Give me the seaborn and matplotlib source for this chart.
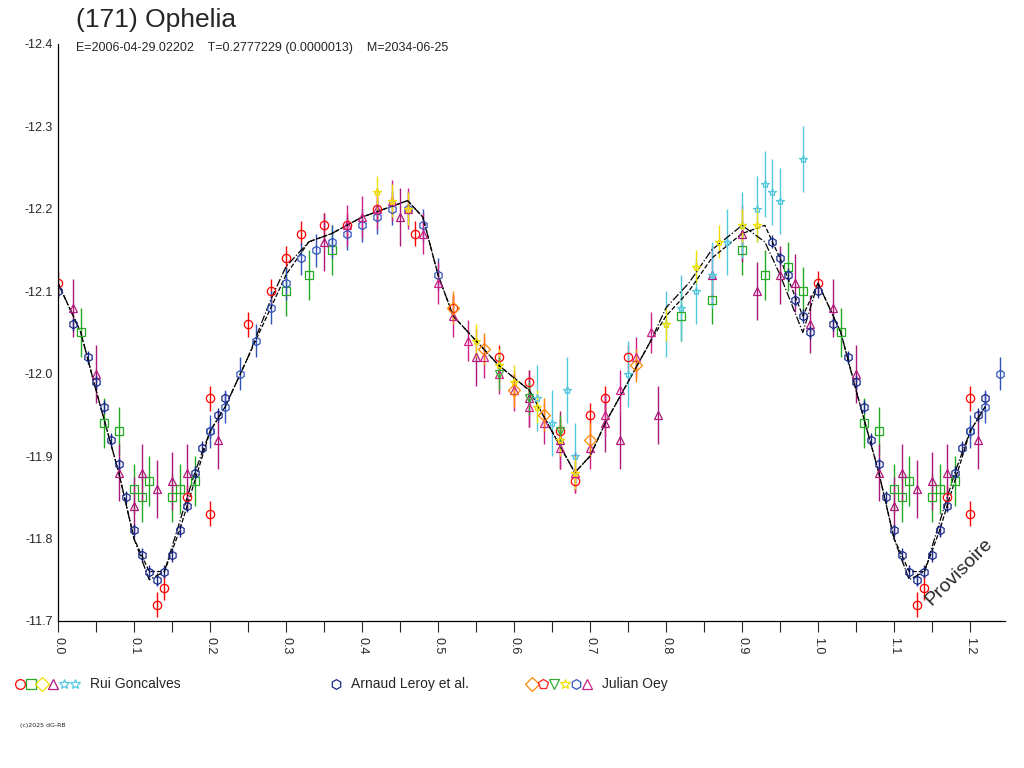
import numpy as np
import pandas as pd
import matplotlib
matplotlib.use("Agg")
import matplotlib.pyplot as plt
import seaborn as sns

# model light curves (phase, mag)
model_phase = [0.00, 0.03, 0.05, 0.08, 0.10, 0.12, 0.14, 0.16, 0.18, 0.20, 0.22, 0.25, 0.28, 0.30,
               0.33, 0.36, 0.40, 0.43, 0.46, 0.48, 0.50, 0.52, 0.55, 0.58, 0.62, 0.65, 0.68, 0.70,
               0.72, 0.75, 0.78, 0.80, 0.83, 0.86, 0.90, 0.93, 0.95, 0.98, 1.00]
model_a = [-12.11, -12.05, -11.98, -11.88, -11.80, -11.76, -11.76, -11.81, -11.87, -11.93, -11.96,
           -12.02, -12.08, -12.12, -12.16, -12.17, -12.19, -12.20, -12.21, -12.19, -12.12, -12.07,
           -12.04, -12.01, -11.98, -11.93, -11.88, -11.90, -11.94, -11.99, -12.04, -12.07, -12.10,
           -12.14, -12.17, -12.18, -12.14, -12.07, -12.11]
model_b = [-12.11, -12.05, -11.98, -11.88, -11.80, -11.75, -11.76, -11.82, -11.88, -11.93, -11.96,
           -12.02, -12.09, -12.13, -12.16, -12.17, -12.19, -12.20, -12.21, -12.19, -12.12, -12.07,
           -12.04, -12.01, -11.98, -11.93, -11.88, -11.90, -11.94, -11.99, -12.04, -12.08, -12.11,
           -12.15, -12.18, -12.16, -12.12, -12.05, -12.11]

# observers: Rui Goncalves
rui_red_phase = [0.00, 0.13, 0.14, 0.17, 0.20, 0.20, 0.25, 0.28, 0.30, 0.32, 0.35, 0.38, 0.42, 0.47,
                 0.52, 0.58, 0.62, 0.66, 0.68, 0.70, 0.72, 0.75]
rui_red_mag = [-12.11, -11.72, -11.74, -11.85, -11.83, -11.97, -12.06, -12.10, -12.14, -12.17, -12.18,
               -12.18, -12.20, -12.17, -12.08, -12.02, -11.99, -11.93, -11.87, -11.95, -11.97, -12.02]
rui_green_phase = [0.03, 0.06, 0.08, 0.10, 0.11, 0.12, 0.15, 0.16, 0.18, 0.30, 0.33, 0.36, 0.82, 0.86,
                   0.90, 0.93, 0.96, 0.98]
rui_green_mag = [-12.05, -11.94, -11.93, -11.86, -11.85, -11.87, -11.85, -11.86, -11.87, -12.10, -12.12,
                 -12.15, -12.07, -12.09, -12.15, -12.12, -12.13, -12.10]
rui_purple_phase = [0.02, 0.05, 0.08, 0.10, 0.11, 0.13, 0.15, 0.17, 0.21, 0.35, 0.45, 0.55, 0.62, 0.66,
                    0.72, 0.74, 0.79, 0.86, 0.90, 0.92, 0.95, 0.97, 0.99]
rui_purple_mag = [-12.08, -12.00, -11.88, -11.84, -11.88, -11.86, -11.87, -11.88, -11.92, -12.16, -12.19,
                  -12.02, -11.97, -11.92, -11.94, -11.92, -11.95, -12.12, -12.17, -12.10, -12.12, -12.11,
                  -12.06]
rui_cyan_phase = [0.63, 0.65, 0.67, 0.68, 0.75, 0.80, 0.82, 0.84, 0.86, 0.88, 0.90, 0.92, 0.93, 0.94,
                  0.95, 0.98]
rui_cyan_mag = [-11.97, -11.94, -11.98, -11.90, -12.00, -12.06, -12.08, -12.10, -12.12, -12.16, -12.18,
                -12.20, -12.23, -12.22, -12.21, -12.26]

# Arnaud Leroy et al.
leroy_phase = [0.00, 0.02, 0.04, 0.05, 0.06, 0.07, 0.08, 0.09, 0.10, 0.11, 0.12, 0.13, 0.14, 0.15,
               0.16, 0.17, 0.18, 0.19, 0.20, 0.21, 0.22, 0.94, 0.95, 0.96, 0.97, 0.98, 0.99]
leroy_mag = [-12.10, -12.06, -12.02, -11.99, -11.96, -11.92, -11.89, -11.85, -11.81, -11.78, -11.76,
             -11.75, -11.76, -11.78, -11.81, -11.84, -11.88, -11.91, -11.93, -11.95, -11.97, -12.16,
             -12.14, -12.12, -12.09, -12.07, -12.05]

# Julian Oey
oey_blue_phase = [0.20, 0.22, 0.24, 0.26, 0.28, 0.30, 0.32, 0.34, 0.36, 0.38, 0.40, 0.42, 0.44, 0.46,
                  0.48, 0.50]
oey_blue_mag = [-11.93, -11.96, -12.00, -12.04, -12.08, -12.11, -12.14, -12.15, -12.16, -12.17, -12.18,
                -12.19, -12.20, -12.20, -12.18, -12.12]
oey_purple_phase = [0.38, 0.40, 0.42, 0.44, 0.46, 0.48, 0.50, 0.52, 0.54, 0.56, 0.58, 0.60, 0.62, 0.64,
                    0.66, 0.68, 0.70, 0.72, 0.74, 0.76, 0.78]
oey_purple_mag = [-12.18, -12.19, -12.20, -12.21, -12.20, -12.17, -12.11, -12.07, -12.04, -12.02, -12.00,
                  -11.98, -11.96, -11.94, -11.91, -11.88, -11.91, -11.95, -11.98, -12.02, -12.05]
oey_yellow_phase = [0.42, 0.44, 0.46, 0.55, 0.58, 0.60, 0.63, 0.66, 0.68, 0.80, 0.84, 0.87, 0.90, 0.92]
oey_yellow_mag = [-12.22, -12.21, -12.20, -12.04, -12.01, -11.99, -11.96, -11.92, -11.88, -12.06, -12.13,
                  -12.16, -12.18, -12.18]
oey_orange_phase = [0.52, 0.56, 0.60, 0.64, 0.70, 0.76]
oey_orange_mag = [-12.08, -12.03, -11.98, -11.95, -11.92, -12.01]
oey_green_phase = [0.58, 0.62, 0.66]
oey_green_mag = [-12.00, -11.97, -11.93]

series = [
    (rui_red_phase, rui_red_mag, "#ff0000", "o", 0.015),
    (rui_green_phase, rui_green_mag, "#22aa22", "s", 0.03),
    (rui_purple_phase, rui_purple_mag, "#b0177a", "^", 0.035),
    (rui_cyan_phase, rui_cyan_mag, "#55c8e0", "*", 0.04),
    (leroy_phase, leroy_mag, "#1a2a8a", "h", 0.008),
    (oey_blue_phase, oey_blue_mag, "#3355bb", "h", 0.02),
    (oey_purple_phase, oey_purple_mag, "#cc2288", "^", 0.025),
    (oey_yellow_phase, oey_yellow_mag, "#f0e000", "*", 0.02),
    (oey_orange_phase, oey_orange_mag, "#ff8800", "D", 0.02),
    (oey_green_phase, oey_green_mag, "#33aa33", "v", 0.02),
]


def wrap(phase, mag):
    """Repeat the first quarter of the cycle after phase 1."""
    df = pd.DataFrame({"phase": phase, "mag": mag})
    extra = df[df["phase"] < 0.25].copy()
    extra["phase"] = extra["phase"] + 1
    return pd.concat([df, extra])


sns.set_style("white")
fig = plt.figure(figsize=(10.24, 7.68), dpi=100)
ax = fig.add_axes([58 / 1024, 1 - 621 / 768, (1005 - 58) / 1024, (621 - 44) / 768])

for phase, mag, color, marker, err in series:
    d = wrap(phase, mag)
    ax.errorbar(d["phase"], d["mag"], yerr=err, fmt=marker, mfc="none", mec=color, ecolor=color,
                ms=6, mew=0.9, elinewidth=1, capsize=0)

for mag, style in [(model_a, "--"), (model_b, "-.")]:
    m = wrap(model_phase[:-1], mag[:-1]).sort_values("phase")
    sns.lineplot(x=m["phase"], y=m["mag"], ax=ax, color="black", lw=0.9, linestyle=style,
                 sort=False, estimator=None)

ax.set_xlim(0, 1.246)
ax.set_ylim(-11.7, -12.4)
ax.set_xticks(np.arange(0, 1.21, 0.1))
ax.set_xticks(np.arange(0.05, 1.25, 0.1), minor=True)
ax.set_xticklabels([f"{v:.1f}" for v in np.arange(0, 1.21, 0.1)], rotation=-90, fontsize=9,
                   family="Liberation Sans")
ax.set_yticks(np.arange(-12.4, -11.69, 0.1))
ax.set_yticklabels([f"{v:.1f}" for v in np.arange(-12.4, -11.69, 0.1)], fontsize=9,
                   family="Liberation Sans")
ax.tick_params(axis="x", which="both", direction="out", length=8, bottom=True, width=0.8)
ax.tick_params(axis="y", direction="out", length=0)
ax.set_xlabel("")
ax.set_ylabel("")
for s in ["top", "right"]:
    ax.spines[s].set_visible(False)
for s in ["left", "bottom"]:
    ax.spines[s].set_color("black")
    ax.spines[s].set_linewidth(0.9)

fig.text(76 / 1024, 1 - 20 / 768, "(171) Ophelia", fontsize=19, va="center", family="Liberation Sans")
fig.text(76 / 1024, 1 - 48 / 768,
         "E=2006-04-29.02202    T=0.2777229 (0.0000013)    M=2034-06-25",
         fontsize=9, va="center", family="Liberation Sans")
ax.text(1.185, -11.76, "Provisoire", rotation=45, fontsize=14, ha="center", va="center",
        family="Liberation Sans")

legend_items = [
    (20, ["#ff0000", "#22aa22", "#f0e000", "#b0177a", "#55c8e0", "#55c8e0"], ["o", "s", "D", "^", "*", "*"],
     "Rui Goncalves"),
    (336, ["#1a2a8a"], ["h"], "Arnaud Leroy et al."),
    (532, ["#ff8800", "#ff2222", "#33aa33", "#f0e000", "#3355bb", "#cc2288"], ["D", "p", "v", "*", "h", "^"],
     "Julian Oey"),
]
for x0, cols, marks, label in legend_items:
    for i, (c, mk) in enumerate(zip(cols, marks)):
        fig.lines.append(plt.Line2D([(x0 + i * 11) / 1024], [1 - 684 / 768], marker=mk, mfc="none", mec=c,
                                    ms=7, mew=0.9, transform=fig.transFigure))
    fig.text((x0 + len(cols) * 11 + 4) / 1024, 1 - 684 / 768, label, fontsize=10, va="center",
             family="Liberation Sans")

fig.text(20 / 1024, 1 - 725 / 768, "(c)2025 dG-RB", fontsize=4.5, va="center")

fig.savefig("out.png", dpi=100)
